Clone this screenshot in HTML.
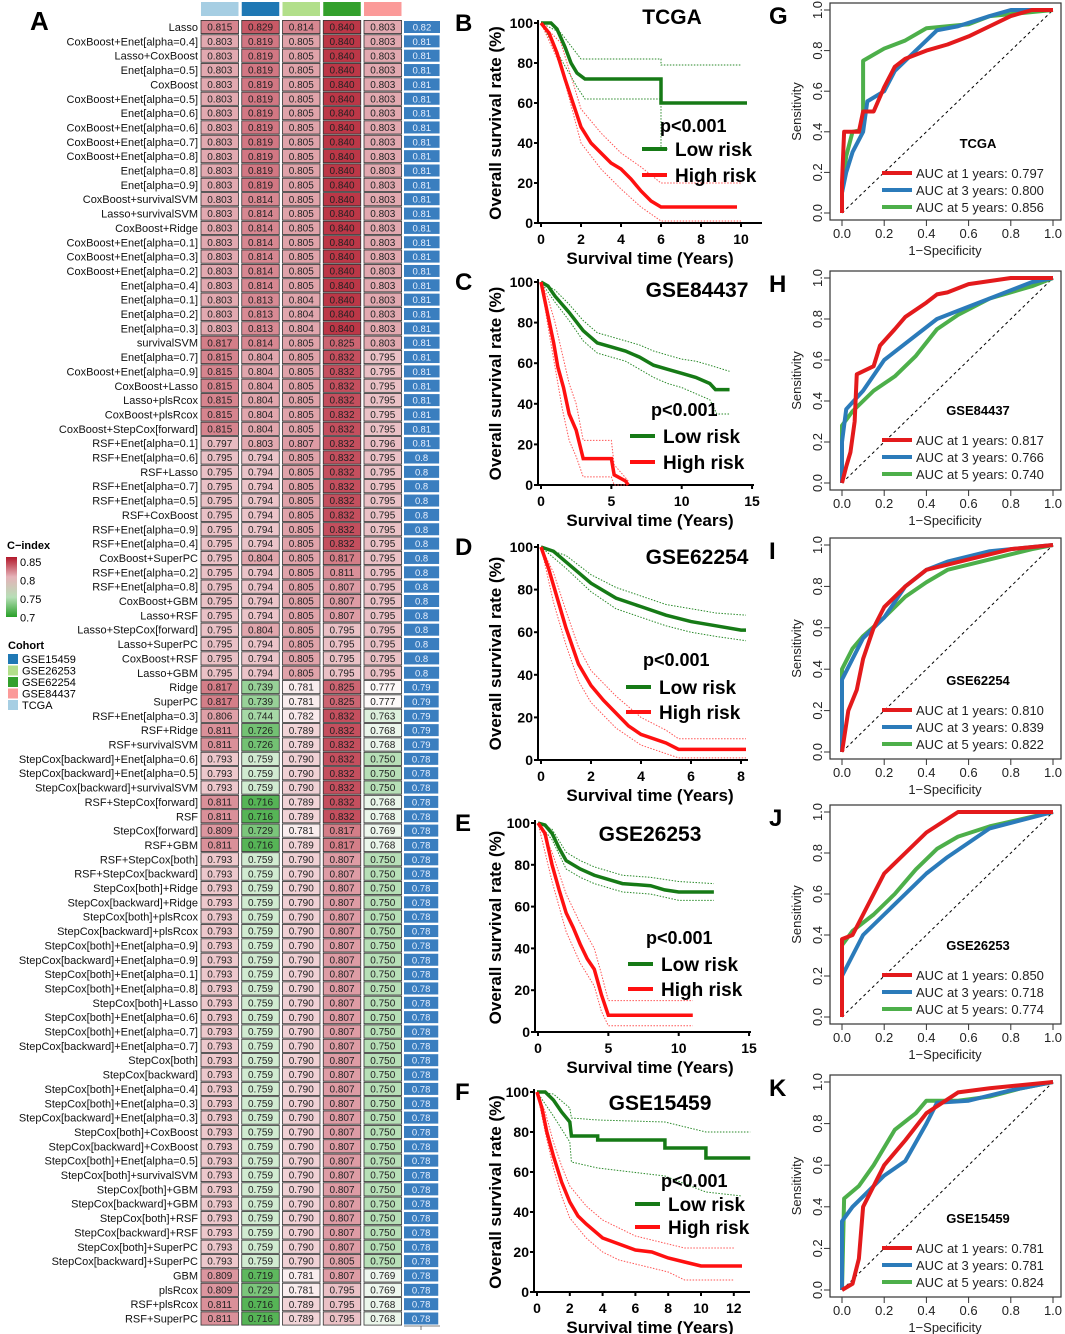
<!DOCTYPE html>
<html><head><meta charset="utf-8">
<style>
html,body{margin:0;padding:0;background:#fff;}
svg{display:block;font-family:"Liberation Sans",Arial,sans-serif;}
</style></head>
<body>
<svg id="fig" width="1065" height="1334" viewBox="0 0 1065 1334" xmlns="http://www.w3.org/2000/svg"></svg>
<script>
// ---------------- Heatmap data ----------------
const methods = ["Lasso","CoxBoost+Enet[alpha=0.4]","Lasso+CoxBoost","Enet[alpha=0.5]","CoxBoost","CoxBoost+Enet[alpha=0.5]","Enet[alpha=0.6]","CoxBoost+Enet[alpha=0.6]","CoxBoost+Enet[alpha=0.7]","CoxBoost+Enet[alpha=0.8]","Enet[alpha=0.8]","Enet[alpha=0.9]","CoxBoost+survivalSVM","Lasso+survivalSVM","CoxBoost+Ridge","CoxBoost+Enet[alpha=0.1]","CoxBoost+Enet[alpha=0.3]","CoxBoost+Enet[alpha=0.2]","Enet[alpha=0.4]","Enet[alpha=0.1]","Enet[alpha=0.2]","Enet[alpha=0.3]","survivalSVM","Enet[alpha=0.7]","CoxBoost+Enet[alpha=0.9]","CoxBoost+Lasso","Lasso+plsRcox","CoxBoost+plsRcox","CoxBoost+StepCox[forward]","RSF+Enet[alpha=0.1]","RSF+Enet[alpha=0.6]","RSF+Lasso","RSF+Enet[alpha=0.7]","RSF+Enet[alpha=0.5]","RSF+CoxBoost","RSF+Enet[alpha=0.9]","RSF+Enet[alpha=0.4]","CoxBoost+SuperPC","RSF+Enet[alpha=0.2]","RSF+Enet[alpha=0.8]","CoxBoost+GBM","Lasso+RSF","Lasso+StepCox[forward]","Lasso+SuperPC","CoxBoost+RSF","Lasso+GBM","Ridge","SuperPC","RSF+Enet[alpha=0.3]","RSF+Ridge","RSF+survivalSVM","StepCox[backward]+Enet[alpha=0.6]","StepCox[backward]+Enet[alpha=0.5]","StepCox[backward]+survivalSVM","RSF+StepCox[forward]","RSF","StepCox[forward]","RSF+GBM","RSF+StepCox[both]","RSF+StepCox[backward]","StepCox[both]+Ridge","StepCox[backward]+Ridge","StepCox[both]+plsRcox","StepCox[backward]+plsRcox","StepCox[both]+Enet[alpha=0.9]","StepCox[backward]+Enet[alpha=0.9]","StepCox[both]+Enet[alpha=0.1]","StepCox[both]+Enet[alpha=0.8]","StepCox[both]+Lasso","StepCox[both]+Enet[alpha=0.6]","StepCox[both]+Enet[alpha=0.7]","StepCox[backward]+Enet[alpha=0.7]","StepCox[both]","StepCox[backward]","StepCox[both]+Enet[alpha=0.4]","StepCox[both]+Enet[alpha=0.3]","StepCox[backward]+Enet[alpha=0.3]","StepCox[both]+CoxBoost","StepCox[backward]+CoxBoost","StepCox[both]+Enet[alpha=0.5]","StepCox[both]+survivalSVM","StepCox[both]+GBM","StepCox[backward]+GBM","StepCox[both]+RSF","StepCox[backward]+RSF","StepCox[both]+SuperPC","StepCox[backward]+SuperPC","GBM","plsRcox","RSF+plsRcox","RSF+SuperPC"];
const cohorts = ["TCGA","GSE15459","GSE26253","GSE62254","GSE84437"];
const cTCGA = [0.815,
0.803,0.803,0.803,0.803,0.803,0.803,0.803,0.803,0.803,0.803,0.803,0.803,0.803,0.803,0.803,0.803,0.803,0.803,0.803,0.803,0.803,
0.817,0.815,0.815,0.815,0.815,0.815,0.815,0.797,
0.795,0.795,0.795,0.795,0.795,0.795,0.795,0.795,0.795,0.795,0.795,0.795,0.795,0.795,0.795,0.795,
0.817,0.817,0.806,0.811,0.811,0.793,0.793,0.793,0.811,0.811,0.809,0.811,
0.793,0.793,0.793,0.793,0.793,0.793,0.793,0.793,0.793,0.793,0.793,0.793,0.793,0.793,0.793,0.793,0.793,0.793,0.793,0.793,0.793,0.793,0.793,0.793,0.793,0.793,0.793,0.793,0.793,
0.809,0.809,0.811,0.811];
const cGSE15459 = [0.829,
0.819,0.819,0.819,0.819,0.819,0.819,0.819,0.819,0.819,0.819,0.819,
0.814,0.814,0.814,0.814,0.814,0.814,0.814,0.813,0.813,0.813,
0.814,0.804,0.804,0.804,0.804,0.804,0.804,0.803,
0.794,0.794,0.794,0.794,0.794,0.794,0.794,0.804,0.794,0.794,0.794,0.794,0.804,0.794,0.794,0.794,
0.739,0.739,0.744,0.726,0.726,0.759,0.759,0.759,0.716,0.716,0.729,0.716,
0.759,0.759,0.759,0.759,0.759,0.759,0.759,0.759,0.759,0.759,0.759,0.759,0.759,0.759,0.759,0.759,0.759,0.759,0.759,0.759,0.759,0.759,0.759,0.759,0.759,0.759,0.759,0.759,0.759,
0.719,0.729,0.716,0.716];
const cGSE26253 = [0.814,
0.805,0.805,0.805,0.805,0.805,0.805,0.805,0.805,0.805,0.805,0.805,0.805,0.805,0.805,0.805,0.805,0.805,0.805,0.804,0.804,0.804,
0.805,0.805,0.805,0.805,0.805,0.805,0.805,0.807,
0.805,0.805,0.805,0.805,0.805,0.805,0.805,0.805,0.805,0.805,0.805,0.805,0.805,0.805,0.805,0.805,
0.781,0.781,0.782,0.789,0.789,0.790,0.790,0.790,0.789,0.789,0.781,0.789,
0.790,0.790,0.790,0.790,0.790,0.790,0.790,0.790,0.790,0.790,0.790,0.790,0.790,0.790,0.790,0.790,0.790,0.790,0.790,0.790,0.790,0.790,0.790,0.790,0.790,0.790,0.790,0.790,0.790,
0.781,0.781,0.789,0.789];
const cGSE62254 = [0.840,0.840,0.840,0.840,0.840,0.840,0.840,0.840,0.840,0.840,0.840,0.840,0.840,0.840,0.840,0.840,0.840,0.840,0.840,0.840,0.840,0.840,
0.825,0.832,0.832,0.832,0.832,0.832,0.832,0.832,0.832,0.832,0.832,0.832,0.832,0.832,0.832,
0.817,0.811,0.807,0.807,0.807,0.795,0.795,0.795,0.795,
0.825,0.825,0.832,0.832,0.832,0.832,0.832,0.832,0.832,0.832,0.817,0.817,
0.807,0.807,0.807,0.807,0.807,0.807,0.807,0.807,0.807,0.807,0.807,0.807,0.807,0.807,0.807,0.807,0.807,0.807,0.807,0.807,0.807,0.807,0.807,0.807,0.807,0.807,0.807,0.807,0.805,
0.807,0.795,0.795,0.795];
const cGSE84437 = [0.803,0.803,0.803,0.803,0.803,0.803,0.803,0.803,0.803,0.803,0.803,0.803,0.803,0.803,0.803,0.803,0.803,0.803,0.803,0.803,0.803,0.803,0.803,
0.795,0.795,0.795,0.795,0.795,0.795,0.796,
0.795,0.795,0.795,0.795,0.795,0.795,0.795,0.795,0.795,0.795,0.795,0.795,0.795,0.795,0.795,0.795,
0.777,0.777,0.763,0.768,0.768,0.750,0.750,0.750,0.768,0.768,0.769,0.768,
0.750,0.750,0.750,0.750,0.750,0.750,0.750,0.750,0.750,0.750,0.750,0.750,0.750,0.750,0.750,0.750,0.750,0.750,0.750,0.750,0.750,0.750,0.750,0.750,0.750,0.750,0.750,0.750,0.750,
0.769,0.769,0.768,0.768];
const meanC = [0.82,
0.81,0.81,0.81,0.81,0.81,0.81,0.81,0.81,0.81,0.81,0.81,0.81,0.81,0.81,0.81,0.81,0.81,0.81,0.81,0.81,0.81,0.81,0.81,0.81,0.81,0.81,0.81,0.81,0.81,
0.8,0.8,0.8,0.8,0.8,0.8,0.8,0.8,0.8,0.8,0.8,0.8,0.8,0.8,0.8,0.8,
0.79,0.79,0.79,0.79,0.79,
0.78,0.78,0.78,0.78,0.78,0.78,0.78,0.78,0.78,0.78,0.78,0.78,0.78,0.78,0.78,0.78,0.78,0.78,0.78,0.78,0.78,0.78,0.78,0.78,0.78,0.78,0.78,0.78,0.78,0.78,0.78,0.78,0.78,0.78,0.78,0.78,0.78,0.78,0.78,0.78];

// ---------------- KM data ----------------
const kmB_low=[[0,100],[0.5,100],[0.8,97],[1.2,88],[1.5,80],[1.8,75],[2.2,72],[6,72],[6,60],[10.3,60]];
const kmB_high=[[0,100],[0.4,95],[0.8,85],[1.2,72],[1.6,60],[2,48],[2.5,40],[3,35],[3.5,30],[4,27],[4.5,22],[5,16],[5.5,11],[6,8],[9.8,8]];
const kmB_lowU=[[0,100],[1,95],[2,82],[6,82],[6,79],[10,79]];
const kmB_lowL=[[0,100],[1,82],[1.8,68],[2.2,62],[6,62],[6,37],[6.4,37]];
const kmB_highU=[[0,100],[1,90],[2,57],[3,45],[4,35],[5,28],[6,20],[10,20]];
const kmB_highL=[[0,100],[1,78],[2,40],[3,27],[4,17],[5,8],[6,1],[10,1]];

const kmC_low=[[0,100],[0.5,98],[1,93],[2,85],[3,76],[4,70],[5,68],[6,66],[7,63],[8,59],[9,57],[10,55],[11,53],[12,50],[12.4,47],[13.4,47]];
const kmC_lowU=[[0,100],[1,96],[2,89],[3,81],[4,75],[5,73],[6,71],[7,69],[8,66],[9,64],[10,62],[11,61],[12,59],[13.4,56]];
const kmC_lowL=[[0,100],[1,90],[2,81],[3,71],[4,65],[5,63],[6,61],[7,57],[8,53],[9,50],[10,48],[11,45],[12,42],[12.5,35],[13.4,35]];
const kmC_high=[[0,100],[0.3,90],[0.6,80],[0.9,70],[1.2,58],[1.6,48],[2,35],[2.5,27],[3,13],[5,13],[5.2,5],[6,2],[6.2,0]];
const kmC_highU=[[0,100],[0.5,92],[1,80],[1.5,65],[2,50],[2.5,40],[3,22],[5,22],[5.2,10],[6.2,2]];
const kmC_highL=[[0,100],[0.5,78],[1,58],[1.5,38],[2,22],[2.5,14],[3,4],[5,4],[5.2,0],[6,0]];

const kmD_low=[[0,100],[0.5,98],[1,93],[1.5,88],[2,83],[3,76],[4,72],[5,68],[6,65],[7,63],[8,61],[8.2,61]];
const kmD_lowU=[[0,100],[1,96],[2,87],[3,81],[4,77],[5,73],[6,71],[7,69],[8.2,68]];
const kmD_lowL=[[0,100],[1,90],[2,79],[3,71],[4,67],[5,63],[6,60],[7,58],[8.2,56]];
const kmD_high=[[0,100],[0.3,90],[0.6,78],[1,62],[1.5,45],[2,35],[2.5,28],[3,22],[3.5,16],[4,12],[5,8],[5.5,5],[8.2,5]];
const kmD_highU=[[0,100],[0.5,88],[1,70],[1.5,53],[2,42],[3,30],[4,20],[5,14],[5.5,10],[8.2,10]];
const kmD_highL=[[0,100],[0.5,74],[1,54],[1.5,37],[2,27],[3,15],[4,7],[5,3],[5.5,1],[8.2,1]];

const kmE_low=[[0,100],[0.5,99],[1,95],[1.5,88],[2,82],[3,78],[4,75],[5,73],[6,71],[8,70],[9,68],[10,67],[12.5,67]];
const kmE_lowU=[[0,100],[1,97],[2,86],[3,82],[4,79],[5,77],[6,75],[8,74],[10,72],[12.5,71]];
const kmE_lowL=[[0,100],[1,92],[2,78],[3,74],[4,71],[5,69],[6,67],[8,66],[10,63],[12.5,63]];
const kmE_high=[[0,100],[0.5,95],[1,80],[1.5,68],[2,57],[2.5,50],[3,42],[3.5,35],[4,30],[4.5,18],[5,8],[11,8]];
const kmE_highU=[[0,100],[1,86],[2,66],[3,52],[4,40],[4.5,28],[5,15],[11,15]];
const kmE_highL=[[0,100],[1,72],[2,48],[3,33],[4,22],[4.5,10],[5,3],[11,3]];

const kmF_low=[[0,100],[0.5,100],[1,96],[1.5,90],[2,85],[2.1,78],[3.7,78],[3.7,76],[7.8,76],[7.8,72],[10.3,72],[10.3,67],[13,67]];
const kmF_lowU=[[0,100],[1,99],[2,92],[2.1,87],[3.7,86],[7.8,85],[10.3,80],[13,80]];
const kmF_lowL=[[0,100],[1,88],[2,75],[2.1,65],[3.7,62],[7.8,58],[10.3,50],[12.5,48]];
const kmF_high=[[0,100],[0.3,92],[0.6,80],[1,68],[1.5,55],[2,45],[2.5,38],[3,34],[4,27],[5,24],[6,21],[7,20],[8,17],[9,15],[10,13],[12.5,13]];
const kmF_highU=[[0,100],[0.5,90],[1,75],[1.5,63],[2,53],[3,43],[4,36],[5,32],[6,28],[7,26],[8,24],[9,22],[12,22]];
const kmF_highL=[[0,100],[0.5,80],[1,62],[1.5,48],[2,37],[3,27],[4,20],[5,16],[6,14],[7,12],[8,10],[9,6],[12,6]];

// ---------------- ROC data ----------------
const rocG_1=[[0,0],[0,0.15],[0.01,0.4],[0.08,0.4],[0.1,0.5],[0.15,0.5],[0.2,0.62],[0.25,0.72],[0.3,0.76],[0.4,0.8],[0.5,0.83],[0.6,0.87],[0.7,0.92],[0.8,0.97],[0.9,1],[1,1]];
const rocG_3=[[0,0],[0,0.1],[0.02,0.2],[0.05,0.3],[0.1,0.4],[0.12,0.55],[0.2,0.6],[0.25,0.7],[0.35,0.8],[0.45,0.9],[0.55,0.92],[0.7,0.97],[0.8,1],[1,1]];
const rocG_5=[[0,0],[0,0.1],[0.02,0.28],[0.05,0.4],[0.1,0.41],[0.1,0.75],[0.15,0.78],[0.2,0.81],[0.3,0.85],[0.4,0.91],[0.6,0.93],[0.7,0.97],[1,1]];
const rocH_1=[[0,0],[0.02,0.08],[0.04,0.15],[0.06,0.3],[0.07,0.53],[0.15,0.57],[0.18,0.67],[0.25,0.75],[0.3,0.81],[0.4,0.88],[0.45,0.92],[0.5,0.93],[0.6,0.97],[0.8,1],[1,1]];
const rocH_3=[[0,0],[0,0.2],[0.02,0.36],[0.1,0.45],[0.2,0.6],[0.3,0.68],[0.45,0.8],[0.55,0.84],[0.7,0.9],[0.9,0.98],[1,1]];
const rocH_5=[[0,0],[0,0.28],[0.05,0.35],[0.15,0.45],[0.25,0.52],[0.35,0.62],[0.45,0.75],[0.55,0.82],[0.7,0.9],[0.9,0.96],[1,1]];
const rocI_1=[[0,0],[0.03,0.2],[0.07,0.3],[0.1,0.45],[0.15,0.6],[0.2,0.7],[0.3,0.8],[0.4,0.88],[0.6,0.93],[0.8,0.98],[1,1]];
const rocI_3=[[0,0],[0,0.35],[0.05,0.45],[0.1,0.55],[0.2,0.65],[0.3,0.8],[0.4,0.88],[0.5,0.92],[0.7,0.97],[1,1]];
const rocI_5=[[0,0],[0,0.4],[0.05,0.5],[0.1,0.56],[0.2,0.65],[0.3,0.75],[0.4,0.82],[0.5,0.88],[0.7,0.93],[0.9,0.98],[1,1]];
const rocJ_1=[[0,0],[0,0.38],[0.05,0.4],[0.1,0.5],[0.15,0.6],[0.2,0.7],[0.3,0.8],[0.4,0.9],[0.55,1],[1,1]];
const rocJ_3=[[0,0],[0,0.2],[0.05,0.3],[0.1,0.4],[0.2,0.5],[0.3,0.6],[0.4,0.7],[0.5,0.78],[0.6,0.85],[0.7,0.92],[1,1]];
const rocJ_5=[[0,0],[0,0.35],[0.05,0.42],[0.15,0.5],[0.25,0.6],[0.35,0.72],[0.45,0.82],[0.55,0.88],[0.7,0.93],[1,1]];
const rocK_1=[[0,0],[0.05,0.03],[0.08,0.15],[0.1,0.4],[0.15,0.5],[0.2,0.6],[0.3,0.72],[0.4,0.85],[0.55,0.95],[0.7,0.97],[1,1]];
const rocK_3=[[0,0],[0,0.33],[0.05,0.4],[0.1,0.45],[0.2,0.55],[0.3,0.62],[0.4,0.8],[0.45,0.9],[0.6,0.91],[0.8,0.96],[1,1]];
const rocK_5=[[0,0],[0.01,0.44],[0.08,0.5],[0.15,0.6],[0.25,0.77],[0.35,0.85],[0.4,0.91],[0.55,0.91],[0.7,0.93],[0.85,0.97],[1,1]];
const aucG=["0.797","0.800","0.856"], aucH=["0.817","0.766","0.740"], aucI=["0.810","0.839","0.822"], aucJ=["0.850","0.718","0.774"], aucK=["0.781","0.781","0.824"];

// ---------------- drawing ----------------
const NS="http://www.w3.org/2000/svg";
const svg=document.getElementById("fig");
function mk(tag,attrs,parent,text){const e=document.createElementNS(NS,tag);for(const k in attrs)e.setAttribute(k,attrs[k]);if(text!==undefined)e.textContent=text;(parent||svg).appendChild(e);return e;}
function grp(name,parent){const g=mk("g",{},parent);return g;}

function cColor(v){
  const mid=0.775;
  let c;
  if(v>=mid){const t=Math.min(1,(v-mid)/(0.85-mid));c=[255+(178-255)*t,255+(24-255)*t,255+(43-255)*t];}
  else{const t=Math.min(1,(mid-v)/(mid-0.70));c=[255+(40-255)*t,255+(160-255)*t,255+(40-255)*t];}
  return "rgb("+c.map(Math.round).join(",")+")";
}
const gA=grp("heatmap-panel");
const lblA=mk("text",{x:30,y:30,"font-size":26,"font-weight":"bold"},gA,"A");

const rowY=i=>27+i*14.35;
const colX=j=>201+j*40.75;
const headerColors=["#a6cee3","#1f78b4","#b2df8a","#33a02c","#fb9a99"];
const cols=[cTCGA,cGSE15459,cGSE26253,cGSE62254,cGSE84437];
cohorts.forEach((c,j)=>{
  const r=mk("rect",{x:colX(j),y:2,width:37.5,height:14,fill:headerColors[j]},gA);
  
});
methods.forEach((m,i)=>{
  const y=rowY(i);
  const t=mk("text",{x:198,y:y+4,"font-size":11,"text-anchor":"end",fill:"#111"},gA,m);
  
  cols.forEach((arr,j)=>{
    const v=arr[i];
    const r=mk("rect",{x:colX(j),y:y-6.6,width:37.5,height:13.2,fill:cColor(v),stroke:"#333","stroke-width":0.8},gA);
    
    const tx=mk("text",{x:colX(j)+18.75,y:y+3.6,"font-size":10,"text-anchor":"middle",fill:"#222"},gA,v.toFixed(3));
    
  });
  const w=meanC[i]/0.82*36;
  const b=mk("rect",{x:404,y:y-6,width:w,height:12,fill:"#3a7ebf"},gA);
  
  const bt=mk("text",{x:404+w/2,y:y+3.5,"font-size":9.5,"text-anchor":"middle",fill:"#e8f0ff"},gA,String(meanC[i]));
  
});
mk("line",{x1:404,y1:1326,x2:440,y2:1326,stroke:"#555","stroke-width":0.8},gA);
mk("line",{x1:421,y1:1326,x2:421,y2:1330,stroke:"#555","stroke-width":0.8},gA);
const gL=grp("cindex-legend",gA);
mk("text",{x:7,y:549,"font-size":11,"font-weight":"bold"},gL,"C\u2212index");
const defs=mk("defs",{});
const lg=mk("linearGradient",{id:"cg",x1:0,y1:0,x2:0,y2:1},defs);
[[0,0.85],[0.33,0.8],[0.67,0.75],[1,0.7]].forEach(([o,v])=>mk("stop",{offset:o,"stop-color":cColor(v)},lg));
mk("rect",{x:6,y:557,width:11,height:60,fill:"url(#cg)"},gL);
["0.85","0.8","0.75","0.7"].forEach((s,k)=>mk("text",{x:20,y:566+k*18.5,"font-size":11},gL,s));
const gC=grp("cohort-legend",gA);
mk("text",{x:8,y:649,"font-size":11,"font-weight":"bold"},gC,"Cohort");
const legOrder=[["GSE15459","#1f78b4"],["GSE26253","#b2df8a"],["GSE62254","#33a02c"],["GSE84437","#fb9a99"],["TCGA","#a6cee3"]];
legOrder.forEach(([n,c],k)=>{
  const r=mk("rect",{x:8,y:654+k*11.5,width:10,height:10,fill:c},gC);
  
  mk("text",{x:22,y:663+k*11.5,"font-size":11},gC,n);
});

function pathD(pts,fx,fy){
  let d="";pts.forEach((p,k)=>{d+=(k===0?"M":" L")+fx(p[0])+","+fy(p[1]);});return d;
}
function km(cfg){
  const g=grp("km-panel-"+cfg.id.toLowerCase());
  const fx=t=>cfg.x0+cfg.sx*t, fy=s=>cfg.y0-(cfg.y0-cfg.y100)*s/100;
  const L=mk("text",{x:455,y:cfg.y100+8,"font-size":24,"font-weight":"bold"},g,cfg.id);
  
  mk("line",{x1:cfg.x0-3,y1:cfg.y100-3,x2:cfg.x0-3,y2:cfg.y0,stroke:"#000","stroke-width":2},g);
  mk("line",{x1:cfg.x0-3,y1:cfg.y0,x2:cfg.xend,y2:cfg.y0,stroke:"#000","stroke-width":2},g);
  [0,20,40,60,80,100].forEach(v=>{
    mk("line",{x1:cfg.x0-7,y1:fy(v),x2:cfg.x0-3,y2:fy(v),stroke:"#000","stroke-width":2},g);
    const t=mk("text",{x:cfg.x0-8,y:fy(v)+5,"font-size":14,"font-weight":"bold","text-anchor":"end"},g,String(v));
    
  });
  cfg.xt.forEach(v=>{
    mk("line",{x1:fx(v),y1:cfg.y0,x2:fx(v),y2:cfg.y0+4,stroke:"#000","stroke-width":2},g);
    const t=mk("text",{x:fx(v),y:cfg.y0+21,"font-size":14,"font-weight":"bold","text-anchor":"middle"},g,String(v));
    
  });
  const yt=mk("text",{x:0,y:0,"font-size":17,"font-weight":"bold","text-anchor":"middle",transform:"translate(501,"+(cfg.y0+cfg.y100)/2+") rotate(-90)"},g,"Overall survival rate (%)");
  
  const xt=mk("text",{x:650,y:cfg.y0+41,"font-size":17,"font-weight":"bold","text-anchor":"middle"},g,"Survival time (Years)");
  
  const tt=mk("text",{x:cfg.tx,y:cfg.ty,"font-size":21,"font-weight":"bold","text-anchor":"middle"},g,cfg.title);
  
  [[cfg.lu,"#2a8a2a"],[cfg.ll,"#2a8a2a"],[cfg.hu,"#ff5555"],[cfg.hl,"#ff5555"]].forEach(([d,c])=>{
    const p=mk("path",{d:pathD(d,fx,fy),fill:"none",stroke:c,"stroke-width":1,"stroke-dasharray":"1.5,1.5"},g);
    
  });
  const pl=mk("path",{d:pathD(cfg.low,fx,fy),fill:"none",stroke:"#167a16","stroke-width":3.5},g);
  
  const ph=mk("path",{d:pathD(cfg.high,fx,fy),fill:"none",stroke:"#ff1010","stroke-width":3.5},g);
  
  const p=mk("text",{x:cfg.px,y:cfg.py,"font-size":18,"font-weight":"bold"},g,"p<0.001");
  
  [["Low risk","#167a16",0],["High risk","#ff1010",1]].forEach(([n,c,k])=>{
    const yy=cfg.ly+k*cfg.lg;
    const le=grp("legend-entry",g);
    mk("line",{x1:cfg.lx,y1:yy,x2:cfg.lx+25,y2:yy,stroke:c,"stroke-width":4},le);
    mk("text",{x:cfg.lx+33,y:yy+7,"font-size":19,"font-weight":"bold"},le,n);
  });
}
km({id:"B",title:"TCGA",tx:672,ty:24,x0:541,sx:20,y0:223,y100:23,xend:762,xt:[0,2,4,6,8,10],low:kmB_low,high:kmB_high,lu:kmB_lowU,ll:kmB_lowL,hu:kmB_highU,hl:kmB_highL,px:660,py:132,lx:642,ly:149,lg:26});
km({id:"C",title:"GSE84437",tx:697,ty:297,x0:541,sx:14.07,y0:485,y100:282,xend:754,xt:[0,5,10,15],low:kmC_low,high:kmC_high,lu:kmC_lowU,ll:kmC_lowL,hu:kmC_highU,hl:kmC_highL,px:651,py:416,lx:630,ly:436,lg:26});
km({id:"D",title:"GSE62254",tx:697,ty:564,x0:541,sx:25,y0:760,y100:547,xend:748,xt:[0,2,4,6,8],low:kmD_low,high:kmD_high,lu:kmD_lowU,ll:kmD_lowL,hu:kmD_highU,hl:kmD_highL,px:643,py:666,lx:626,ly:687,lg:25});
km({id:"E",title:"GSE26253",tx:650,ty:841,x0:538,sx:14.07,y0:1032,y100:823,xend:751,xt:[0,5,10,15],low:kmE_low,high:kmE_high,lu:kmE_lowU,ll:kmE_lowL,hu:kmE_highU,hl:kmE_highL,px:646,py:944,lx:628,ly:964,lg:25});
km({id:"F",title:"GSE15459",tx:660,ty:1110,x0:537,sx:16.4,y0:1292,y100:1092,xend:750,xt:[0,2,4,6,8,10,12],low:kmF_low,high:kmF_high,lu:kmF_lowU,ll:kmF_lowL,hu:kmF_highU,hl:kmF_highL,px:661,py:1187,lx:635,ly:1204,lg:23});

function roc(cfg){
  const g=grp("roc-panel-"+cfg.id.toLowerCase());
  const fx=x=>842+211*x, fy=y=>cfg.y0-(cfg.y0-cfg.y1)*y;
  const L=mk("text",{x:769,y:cfg.y1+14,"font-size":24,"font-weight":"bold"},g,cfg.id);
  
  const top=cfg.y1-7, bot=cfg.y0+7;
  const fr=mk("rect",{x:830,y:top,width:231,height:bot-top,fill:"none",stroke:"#333","stroke-width":1.2},g);
  
  [0,0.2,0.4,0.6,0.8,1].forEach(v=>{
    const s=v.toFixed(1);
    mk("line",{x1:824,y1:fy(v),x2:830,y2:fy(v),stroke:"#333"},g);
    const t=mk("text",{x:0,y:0,"font-size":13,"text-anchor":"middle",fill:"#222",transform:"translate(822,"+fy(v)+") rotate(-90)"},g,s);
    
    mk("line",{x1:fx(v),y1:bot,x2:fx(v),y2:bot+6,stroke:"#333"},g);
    const u=mk("text",{x:fx(v),y:bot+18,"font-size":13,"text-anchor":"middle",fill:"#222"},g,s);
    
  });
  const yl=mk("text",{x:0,y:0,"font-size":13,"text-anchor":"middle",fill:"#222",transform:"translate(801,"+(top+bot)/2+") rotate(-90)"},g,"Sensitivity");
  
  const xl=mk("text",{x:945,y:bot+35,"font-size":13,"text-anchor":"middle",fill:"#222"},g,"1\u2212Specificity");
  
  mk("line",{x1:fx(0),y1:fy(0),x2:fx(1),y2:fy(1),stroke:"#000","stroke-width":1,"stroke-dasharray":"3,3"},g);
  const colors=["#e31a1c","#2b7bba","#4daf4a"];
  [cfg.r5,cfg.r3,cfg.r1].forEach((d,k)=>{
    const p=mk("path",{d:pathD(d,fx,fy),fill:"none",stroke:colors[2-k],"stroke-width":4,"stroke-linejoin":"round"},g);
    
  });
  const tt=mk("text",{x:978,y:cfg.ly-25,"font-size":13,"font-weight":"bold","text-anchor":"middle"},g,cfg.title);
  
  [1,3,5].forEach((yr,k)=>{
    const yy=cfg.ly+k*17;
    const le=grp("legend-entry",g);
    mk("line",{x1:882,y1:yy,x2:912,y2:yy,stroke:colors[k],"stroke-width":4},le);
    mk("text",{x:916,y:yy+5,"font-size":13,fill:"#222"},le,"AUC at "+yr+" years: "+cfg.auc[k]);
  });
}
roc({id:"G",title:"TCGA",y1:10,y0:213,r1:rocG_1,r3:rocG_3,r5:rocG_5,auc:aucG,ly:173});
roc({id:"H",title:"GSE84437",y1:278,y0:483,r1:rocH_1,r3:rocH_3,r5:rocH_5,auc:aucH,ly:440});
roc({id:"I",title:"GSE62254",y1:545,y0:752,r1:rocI_1,r3:rocI_3,r5:rocI_5,auc:aucI,ly:710});
roc({id:"J",title:"GSE26253",y1:812,y0:1017,r1:rocJ_1,r3:rocJ_3,r5:rocJ_5,auc:aucJ,ly:975});
roc({id:"K",title:"GSE15459",y1:1082,y0:1290,r1:rocK_1,r3:rocK_3,r5:rocK_5,auc:aucK,ly:1248});
</script>
</body></html>
